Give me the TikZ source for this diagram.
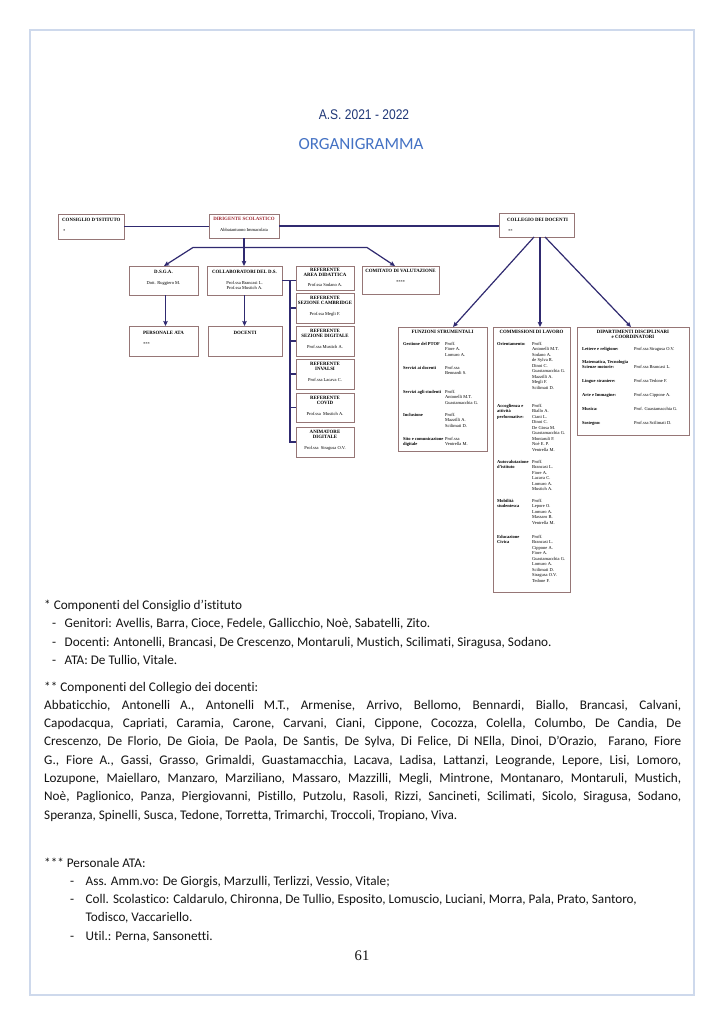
\documentclass[tikz,border=0pt]{standalone}
\usepackage{fontspec}
\setmainfont{Carlito}[Ligatures=NoCommon]
\newfontfamily\tms{Liberation Serif}[Ligatures=NoCommon]
\newfontfamily\arln[FakeStretch=0.86]{Liberation Sans}
\usetikzlibrary{arrows.meta,calc}
\definecolor{framec}{RGB}{206,217,236}
\definecolor{navy}{RGB}{48,42,112}
\definecolor{boxline}{RGB}{150,118,118}
\definecolor{dirred}{RGB}{160,40,50}
\definecolor{titleblue}{RGB}{68,114,196}
\definecolor{asblue}{RGB}{32,56,120}
\definecolor{bodyc}{RGB}{20,20,20}
\tikzset{
 frame/.style={draw=framec, line width=1.6pt},
 box/.style={draw=boxline, line width=0.7pt, fill=white, inner sep=0pt, outer sep=0pt},
 conn/.style={draw=navy, line width=1.2pt},
 arr/.style={conn, -{Stealth[length=5pt, width=4.5pt, inset=0.8pt]}},
 ttl/.style={font=\tms\bfseries\fontsize{4.9}{5.5}\selectfont, inner sep=0pt, text height=3.3pt, text depth=0.9pt},
 val/.style={font=\tms\fontsize{4.5}{5.5}\selectfont, inner sep=0pt, text height=3.1pt, text depth=0.9pt, anchor=west},
 lbl/.style={val, font=\tms\bfseries\fontsize{4.5}{5.5}\selectfont},
 nm/.style={val, anchor=center},
 body/.style={font=\fontsize{13.2}{18}\selectfont, inner sep=0pt, text height=9pt, text depth=3pt, anchor=west, text=bodyc},
}
\newcommand\bx[5]{\node[box, minimum width={(#4-#2)*1pt}, minimum height={(#5-#3)*1pt}] (#1) at ({(#2+#4)/2},{(#3+#5)/2}) {};}
\newcommand\col[5]{\foreach \s [count=\i] in {#5} {\node[#2] (#1-\i) at (#3,{#4+(\i-1)*5.5}) {\s};}}
\newcommand\jl[1]{\hbox to 637pt{#1}}
\begin{document}
\begin{tikzpicture}[x=1pt,y=-1pt]
\useasboundingbox (0,0) rectangle (724,1024);
\fill[white] (0,0) rectangle (724,1024);
\draw[frame] (30,30) rectangle (694,995);

\node[font=\arln\fontsize{14}{16}\selectfont, text=asblue] (as) at (364,115) {A.S. 2021 - 2022};
\node[font=\fontsize{17}{20}\selectfont, text=titleblue] (org) at (361,144) {ORGANIGRAMMA};

% boxes
\bx{cons}{58}{214}{124}{239}
\bx{dir}{209}{214}{279}{238}
\bx{coll}{499}{213}{574}{237}
\bx{dsga}{129}{266}{198}{295}
\bx{collab}{207}{266}{282}{295}
\bx{refA}{296}{266}{354}{290}
\bx{refB}{296}{293}{354}{323}
\bx{refC}{296}{326}{354}{356}
\bx{refD}{296}{359}{354}{389}
\bx{refE}{296}{393}{354}{422}
\bx{refF}{296}{427}{354}{457}
\bx{comit}{362}{266}{439}{294}
\bx{pata}{129}{326}{198}{356}
\bx{doc}{208}{326}{282}{356}
\bx{fun}{398}{327}{487}{451}
\bx{com}{493}{327}{570}{592}
\bx{dip}{577}{327}{689}{435}

% connectors
\draw[conn] (cons.east) -- (cons.east -| dir.west);
\draw[conn] (dir.east) -- (dir.east -| coll.west);
\draw[arr] (dir.south) -- (dir.south |- collab.north);
\coordinate (hl) at (193,247.5);
\coordinate (hr) at (367,247.5);
\coordinate (hm) at (dir.south |- hl);
\draw[arr] (hm) -- (hl) -- ($(dsga.north)+(0.5,0)$);
\draw[arr] (hm) -- (hr) -- ($(comit.north)+(-5.5,0)$);
\draw[arr] ($(dsga.south)+(2,0)$) -- ($(dsga.south |- pata.north)+(2,0)$);
\draw[arr] (collab.south) -- (collab.south |- doc.north);
\coordinate (bt) at ($(collab.east)+(8,0)$);
\draw[conn] (collab.east) -- (collab.east -| refA.west);
\draw[conn] (bt) -- (bt |- refF.west) -- (refF.west);
\foreach \r in {refB,refC,refD,refE} {\draw[conn] (bt |- \r.west) -- (\r.west);}
\draw[arr] ($(coll.south)+(-2.5,0)$) -- ($(fun.north)+(10.5,0)$);
\draw[arr] ($(coll.south)+(3.5,0)$) -- ($(com.north)+(8.5,0)$);
\draw[arr] ($(coll.south)+(8.5,0)$) -- ($(dip.north)+(-2,0)$);

% top level texts
\node[ttl, anchor=west] (consT) at (62,220) {CONSIGLIO D’ISTITUTO};
\node[val] (consS) at (63,231) {*};
\node[ttl, text=dirred] (dirT) at (244,219) {DIRIGENTE SCOLASTICO};
\node[nm] (dirN) at (244,230) {Abbatantuono Immacolata};
\node[ttl, anchor=west] (collT) at (507,220) {COLLEGIO DEI DOCENTI};
\node[val] (collS) at (508,231) {**};
\node[ttl] (dsgaT) at (163.5,272) {D.S.G.A.};
\node[nm] (dsgaN) at (163.5,283) {Dott. Ruggiero M.};
\node[ttl] (collabT) at (244.5,272) {COLLABORATORI DEL D.S.};
\node[nm] (collabN1) at (244.5,283) {Prof.ssa Brancasi L.};
\node[nm] (collabN2) at (244.5,288.5) {Prof.ssa Mustich A.};
\node[ttl] (pataT) at (163.5,333) {PERSONALE ATA};
\node[val] (pataS) at (143,344) {***};
\node[ttl] (docT) at (245,333) {DOCENTI};
\node[ttl] (comitT) at (400.5,271.5) {COMITATO DI VALUTAZIONE};
\node[nm] (comitS) at (400.5,282) {****};
% referenti
\node[ttl] (refA1) at (325,270.5) {REFERENTE};
\node[ttl] (refA2) at (325,275.5) {AREA DIDATTICA};
\node[nm] (refA3) at (325,285.5) {Prof.ssa Sodano A.};
\node[ttl] (refB1) at (325,298.5) {REFERENTE};
\node[ttl] (refB2) at (325,303.5) {SEZIONE CAMBRIDGE};
\node[nm] (refB3) at (325,314) {Prof.ssa Megli F.};
\node[ttl] (refC1) at (325,331.5) {REFERENTE};
\node[ttl] (refC2) at (325,336.5) {SEZIONE DIGITALE};
\node[nm] (refC3) at (325,347) {Prof.ssa Mustich A.};
\node[ttl] (refD1) at (325,364.5) {REFERENTE};
\node[ttl] (refD2) at (325,369.5) {INVALSI};
\node[nm] (refD3) at (325,380) {Prof.ssa Lacava C.};
\node[ttl] (refE1) at (325,398.5) {REFERENTE};
\node[ttl] (refE2) at (325,403.5) {COVID};
\node[nm] (refE3) at (325,414) {Prof.ssa\ \ Mustich A.};
\node[ttl] (refF1) at (325,432.5) {ANIMATORE};
\node[ttl] (refF2) at (325,437.5) {DIGITALE};
\node[nm] (refF3) at (325,448) {Prof.ssa\ \ Siragusa O.V.};

% funzioni strumentali
\node[ttl] (funT) at (442.5,332.5) {FUNZIONI STRUMENTALI};
\node[lbl] (funL1) at (403,344) {Gestione del PTOF};
\col{funV1}{val}{445}{344}{Proff.,Fiore A.,Lomuro A.}
\node[lbl] (funL2) at (403,368) {Servizi ai docenti};
\col{funV2}{val}{445}{368}{Prof.ssa,Bennardi S.}
\node[lbl] (funL3) at (403,392) {Servizi agli studenti};
\col{funV3}{val}{445}{392}{Proff.,Antonelli M.T.,Guastamacchia G.}
\node[lbl] (funL4) at (403,415) {Inclusione};
\col{funV4}{val}{445}{415}{Proff.,Mazzilli A.,Scilimati D.}
\col{funL5}{lbl}{403}{439}{Sito e comunicazione,digitale}
\col{funV5}{val}{445}{439}{Prof.ssa,Ventrella M.}

% commissioni
\node[ttl] (comT) at (531.5,332.5) {COMMISSIONI DI LAVORO};
\node[lbl] (comL1) at (497,344) {Orientamento:};
\col{comV1}{val}{532}{344}{Proff.,Antonelli M.T.,Sodano A.,de Sylva R.,Dinoi C.,Guastamacchia G.,Mazzilli A.,Megli F.,Scilimati D.}
\col{comL2}{lbl}{497}{406}{Accoglienza e,attività,performative:}
\col{comV2}{val}{532}{406}{Proff.,Biallo A.,Ciani L.,Dinoi C.,De Giosa M.,Guastamacchia G.,Montaruli F.,Noè E. P.,Ventrella M.}
\col{comL3}{lbl}{497}{462}{Autovalutazione,d’istituto}
\col{comV3}{val}{532}{462}{Proff.,Brancasi L.,Fiore A.,Lacava C.,Lomuro A.,Mustich A.}
\col{comL4}{lbl}{497}{501}{Mobilità,studentesca}
\col{comV4}{val}{532}{501}{Proff.,Lepore O.,Lomuro A.,Massaro B.,Ventrella M.}
\col{comL5}{lbl}{497}{537}{Educazione,Civica}
\col{comV5}{val}{532}{537}{Proff.,Brancasi L.,Cippone A.,Fiore A.,Guastamacchia G.,Lomuro A.,Scilimati D.,Siragusa O.V.,Tedone F.}

% dipartimenti
\node[ttl] (dipT1) at (633,332) {DIPARTIMENTI DISCIPLINARI};
\node[ttl] (dipT2) at (633,337.5) {e COORDINATORI};
\node[lbl] (dipL1) at (582,349) {Lettere e religione:};
\node[val] (dipV1) at (634,349) {Prof.ssa Siragusa O.V.};
\node[lbl] (dipL2a) at (582,362) {Matematica, Tecnologia};
\node[lbl] (dipL2b) at (582,367.5) {Scienze motorie:};
\node[val] (dipV2) at (634,367.5) {Prof.ssa Brancasi L.};
\node[lbl] (dipL3) at (582,381) {Lingue straniere:};
\node[val] (dipV3) at (634,381) {Prof.ssa Tedone F.};
\node[lbl] (dipL4) at (582,395) {Arte e Immagine:};
\node[val] (dipV4) at (634,395) {Prof.ssa Cippone A.};
\node[lbl] (dipL5) at (582,409) {Musica:};
\node[val] (dipV5) at (634,409) {Prof. Guastamacchia G.};
\node[lbl] (dipL6) at (582,423) {Sostegno:};
\node[val] (dipV6) at (634,423) {Prof.ssa Scilimati D.};

% body text
\node[body] (b1) at (44,606) {* Componenti del Consiglio d’istituto};
\node[body] (b2d) at (52,624.5) {-};
\node[body] (b2) at (64.5,624.5) {Genitori: Avellis, Barra, Cioce, Fedele, Gallicchio, Noè, Sabatelli, Zito.};
\node[body] (b3d) at (52,643) {-};
\node[body] (b3) at (64.5,643) {Docenti: Antonelli, Brancasi, De Crescenzo, Montaruli, Mustich, Scilimati, Siragusa, Sodano.};
\node[body] (b4d) at (52,661) {-};
\node[body] (b4) at (64.5,661) {ATA: De Tullio, Vitale.};
\node[body] (b5) at (44,688) {** Componenti del Collegio dei docenti:};
\node[body] (p1) at (44,706.3) {\jl{Abbaticchio, Antonelli A., Antonelli M.T., Armenise, Arrivo, Bellomo, Bennardi, Biallo, Brancasi, Calvani,}};
\node[body] (p2) at (44,724.6) {\jl{Capodacqua, Capriati, Caramia, Carone, Carvani, Ciani, Cippone, Cocozza, Colella, Columbo, De Candia, De}};
\node[body] (p3) at (44,742.9) {\jl{Crescenzo, De Florio, De Gioia, De Paola, De Santis, De Sylva, Di Felice, Di NElla, Dinoi, D’Orazio,~ Farano, Fiore}};
\node[body] (p4) at (44,761.2) {\jl{G., Fiore A., Gassi, Grasso, Grimaldi, Guastamacchia, Lacava, Ladisa, Lattanzi, Leogrande, Lepore, Lisi, Lomoro,}};
\node[body] (p5) at (44,779.5) {\jl{Lozupone, Maiellaro, Manzaro, Marziliano, Massaro, Mazzilli, Megli, Mintrone, Montanaro, Montaruli, Mustich,}};
\node[body] (p6) at (44,797.8) {\jl{Noè, Paglionico, Panza, Piergiovanni, Pistillo, Putzolu, Rasoli, Rizzi, Sancineti, Scilimati, Sicolo, Siragusa, Sodano,}};
\node[body] (p7) at (44,816.1) {Speranza, Spinelli, Susca, Tedone, Torretta, Trimarchi, Troccoli, Tropiano, Viva.};
\node[body] (c1) at (44,864) {*** Personale ATA:};
\node[body] (c2d) at (70,882) {-};
\node[body] (c2) at (85.5,882) {Ass. Amm.vo: De Giorgis, Marzulli, Terlizzi, Vessio, Vitale;};
\node[body] (c3d) at (70,900.3) {-};
\node[body] (c3) at (85.5,900.3) {Coll. Scolastico: Caldarulo, Chironna, De Tullio, Esposito, Lomuscio, Luciani, Morra, Pala, Prato, Santoro,};
\node[body] (c4) at (85.5,918.6) {Todisco, Vaccariello.};
\node[body] (c5d) at (70,937) {-};
\node[body] (c5) at (85.5,937) {Util.: Perna, Sansonetti.};
\node[font=\tms\fontsize{14.6}{16}\selectfont, text=bodyc, inner sep=0pt] (pg) at (362,956) {61};
\end{tikzpicture}
\end{document}
